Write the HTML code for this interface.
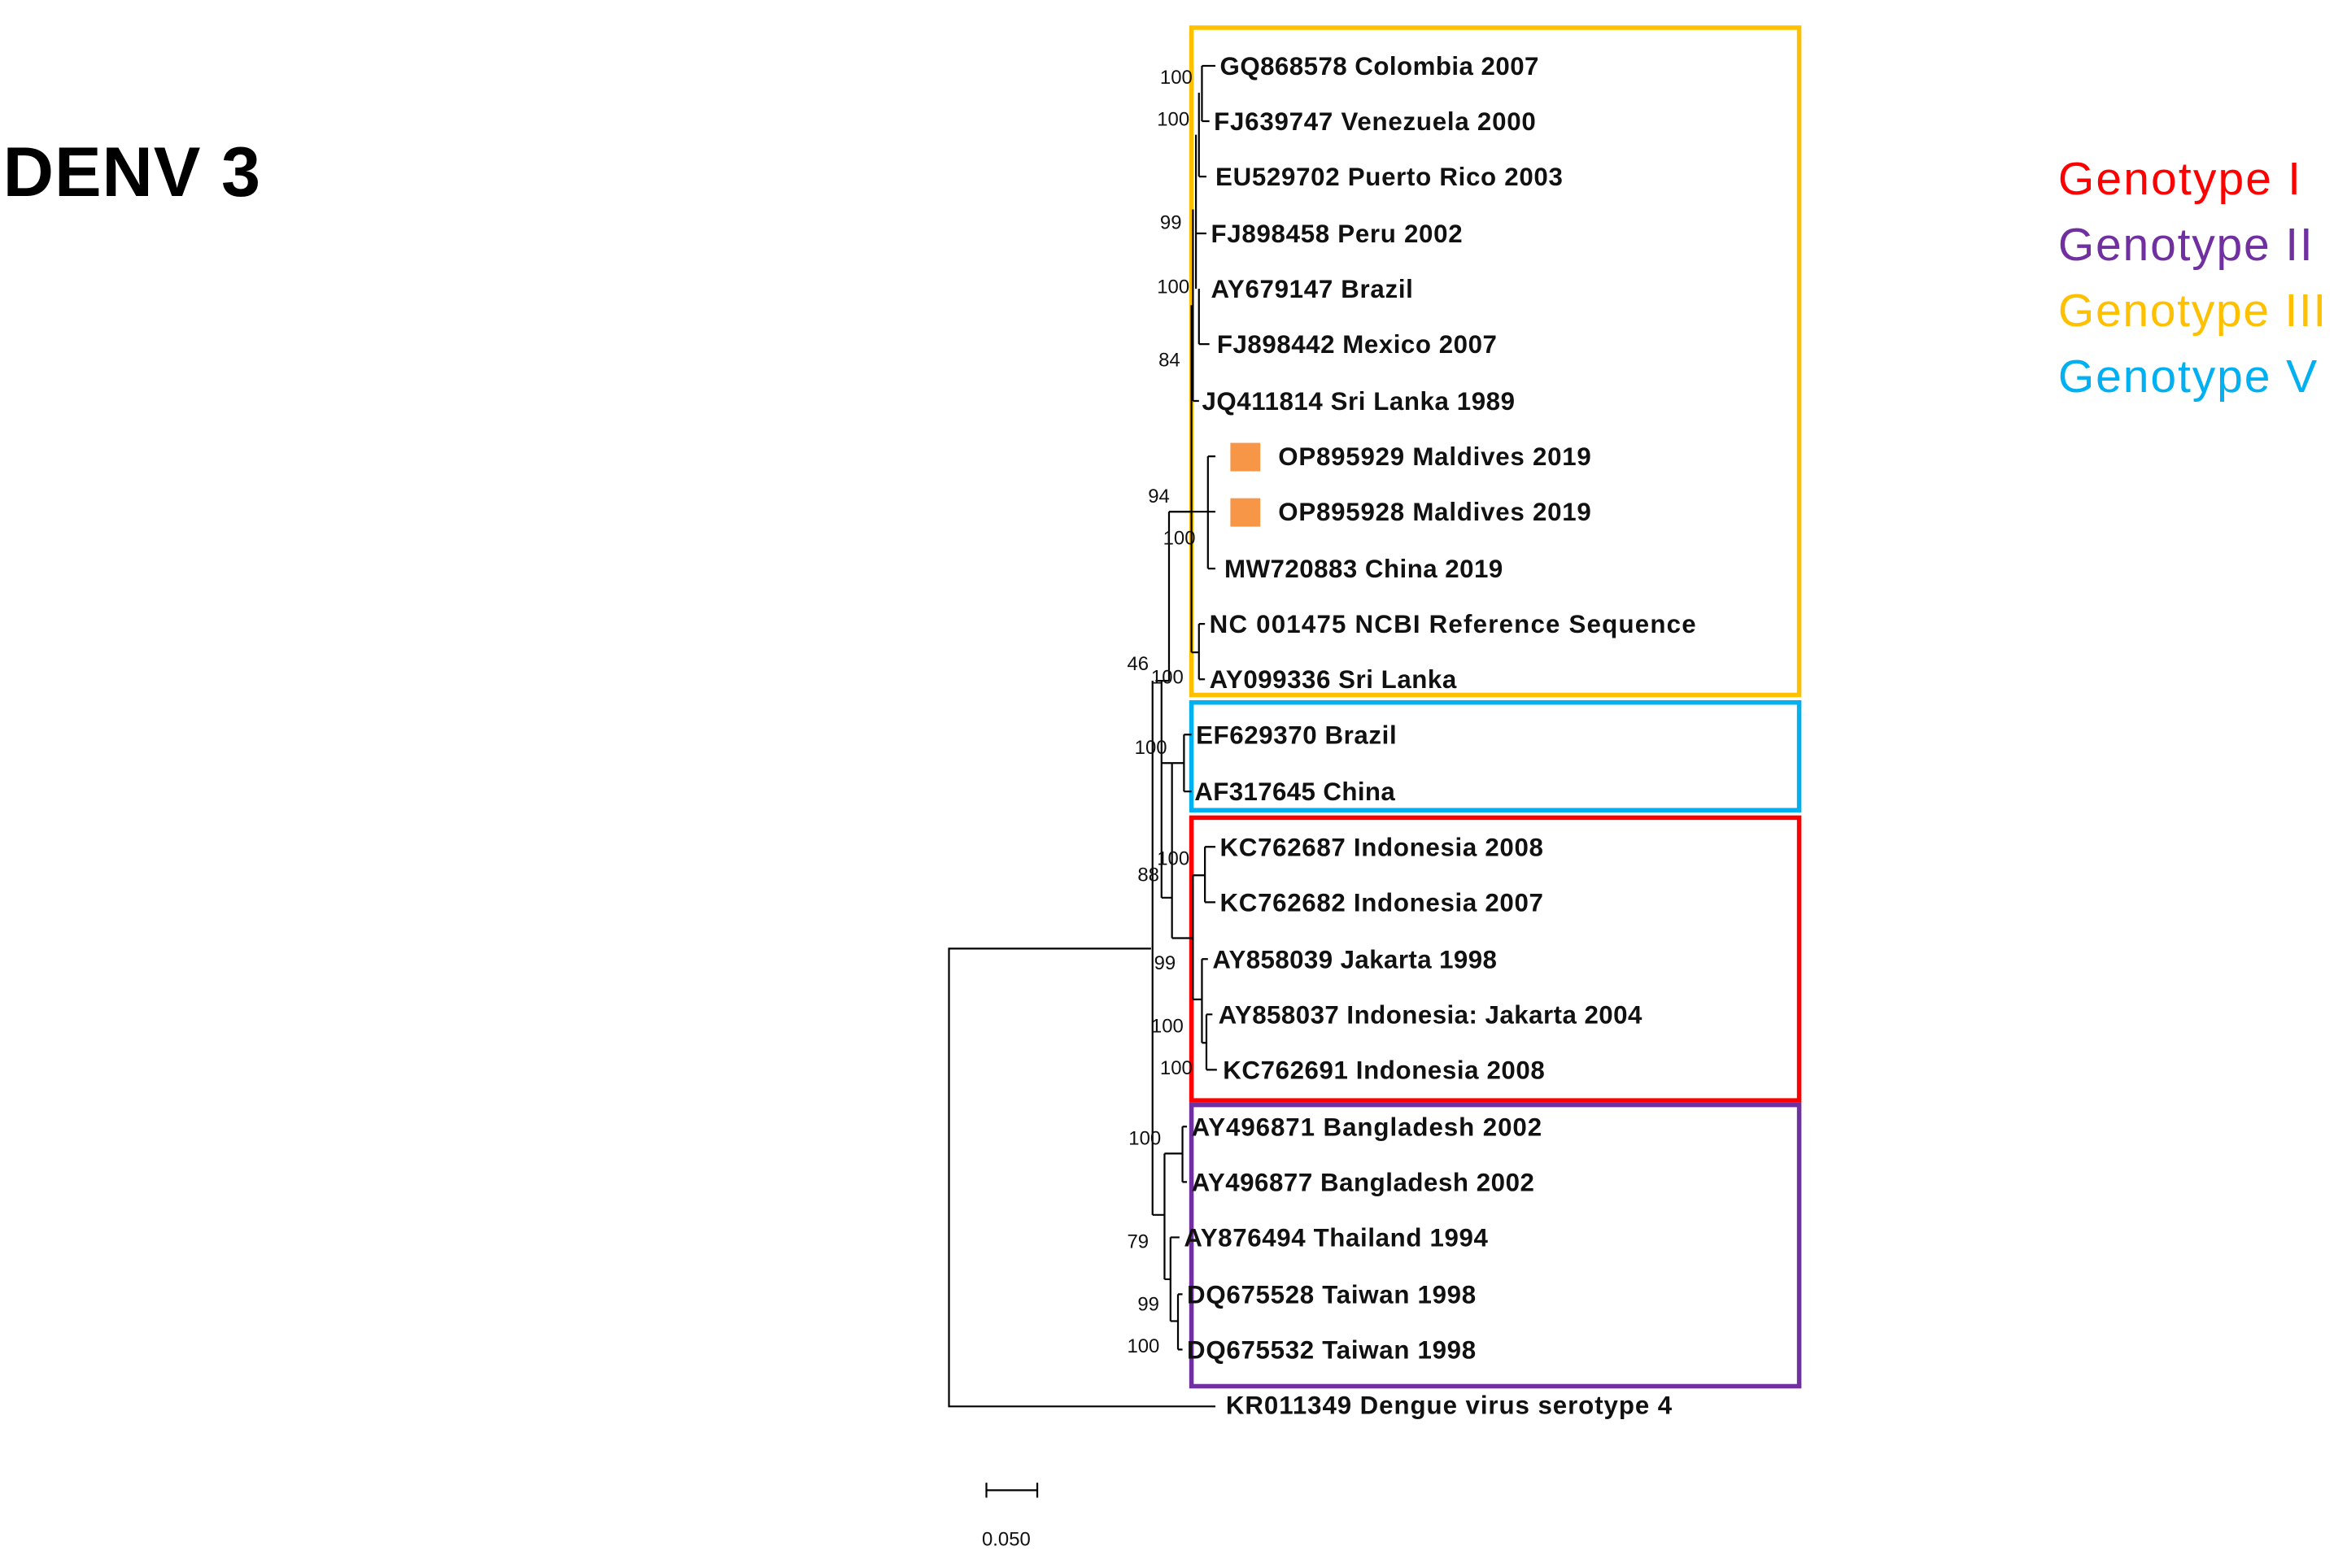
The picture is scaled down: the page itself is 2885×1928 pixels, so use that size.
<!DOCTYPE html>
<html><head><meta charset="utf-8"><style>
html,body{margin:0;padding:0;background:#fff;}
svg{display:block;}
.t{font-family:"Liberation Sans",Arial,sans-serif;font-weight:bold;font-size:17px;fill:#111;}
.b{font-family:"Liberation Sans",Arial,sans-serif;font-size:13px;fill:#111;}
.g{font-family:"Liberation Sans",Arial,sans-serif;font-size:31px;}
</style></head><body>
<svg width="2885" height="1928" viewBox="0 0 1568 1048" preserveAspectRatio="none" xmlns="http://www.w3.org/2000/svg">
<rect width="1568" height="1048" fill="#fff"/>
<text x="2" y="131" font-family="Liberation Sans,Arial,sans-serif" font-weight="bold" font-size="47" textLength="172" fill="#000">DENV 3</text>
<text class="g" x="1375" y="130" fill="#ff0000" textLength="162">Genotype I</text>
<text class="g" x="1375" y="174" fill="#7030a0" textLength="170">Genotype II</text>
<text class="g" x="1375" y="218" fill="#ffc000" textLength="179">Genotype III</text>
<text class="g" x="1375" y="262" fill="#00b0f0" textLength="173">Genotype V</text>

<g fill="none" stroke-width="3">
<rect x="796" y="18.5" width="406" height="446" stroke="#ffc000"/>
<rect x="796" y="469.5" width="406" height="72" stroke="#00b0f0"/>
<rect x="796" y="546.5" width="406" height="189" stroke="#ff0000"/>
<rect x="796" y="738.5" width="406" height="188" stroke="#7030a0"/>
</g>

<g stroke="#000" stroke-width="1.2" fill="none">
<path d="M769 634H634V940H812"/>
<path d="M770 455V812"/>
<path d="M772 455H776V600"/>
<path d="M776 455H781"/>
<path d="M781 342V455"/>
<path d="M781 342H796M796 204V436"/>
<path d="M803 44V81M803 44H812M803 81H808"/>
<path d="M801 62V118M801 118H806"/>
<path d="M799 90V193M799 156H806"/>
<path d="M801 193V230M801 230H808"/>
<path d="M797 140V268M797 268H801"/>
<path d="M781 342H807M807 305V380M807 305H812M807 342H812M807 380H812"/>
<path d="M796 436H801M801 417V454M801 417H805M801 454H805"/>
<path d="M776 510H791M791 491V529M791 491H796M791 529H796"/>
<path d="M776 600H783M783 510V627"/>
<path d="M783 627H797M797 585V668"/>
<path d="M797 585H805M805 566V603M805 566H812M805 603H812"/>
<path d="M797 668H803M803 641V697M803 641H807M803 697H806M806 678V715M806 678H810M806 715H813"/>
<path d="M770 812H778M778 771V855"/>
<path d="M778 771H790M790 753V790M790 753H793M790 790H793"/>
<path d="M778 855H782M782 827V883M782 827H788"/>
<path d="M782 883H787M787 865V902M787 865H790M787 902H790"/>
<path d="M659 996H693M659 991V1001M693 991V1001"/>
</g>

<g fill="#f79646">
<rect x="822" y="296" width="20" height="19"/>
<rect x="822" y="333" width="20" height="19"/>
</g>

<g class="t">
<text x="815" y="50" textLength="213">GQ868578 Colombia 2007</text>
<text x="811" y="87" textLength="215">FJ639747 Venezuela 2000</text>
<text x="812" y="124" textLength="232">EU529702 Puerto Rico 2003</text>
<text x="809" y="162" textLength="168">FJ898458 Peru 2002</text>
<text x="809" y="199" textLength="135">AY679147 Brazil</text>
<text x="813" y="236" textLength="187">FJ898442 Mexico 2007</text>
<text x="803" y="274" textLength="209">JQ411814 Sri Lanka 1989</text>
<text x="854" y="311" textLength="209">OP895929 Maldives 2019</text>
<text x="854" y="348" textLength="209">OP895928 Maldives 2019</text>
<text x="818" y="386" textLength="186">MW720883 China 2019</text>
<text x="808" y="423" textLength="325">NC 001475 NCBI Reference Sequence</text>
<text x="808" y="460" textLength="165">AY099336 Sri Lanka</text>
<text x="799" y="497" textLength="134">EF629370 Brazil</text>
<text x="798" y="535" textLength="134">AF317645 China</text>
<text x="815" y="572" textLength="216">KC762687 Indonesia 2008</text>
<text x="815" y="609" textLength="216">KC762682 Indonesia 2007</text>
<text x="810" y="647" textLength="190">AY858039 Jakarta 1998</text>
<text x="814" y="684" textLength="283">AY858037 Indonesia: Jakarta 2004</text>
<text x="817" y="721" textLength="215">KC762691 Indonesia 2008</text>
<text x="796" y="759" textLength="234">AY496871 Bangladesh  2002</text>
<text x="796" y="796" textLength="229">AY496877 Bangladesh 2002</text>
<text x="791" y="833" textLength="203">AY876494 Thailand 1994</text>
<text x="793" y="871" textLength="193">DQ675528 Taiwan 1998</text>
<text x="793" y="908" textLength="193">DQ675532 Taiwan 1998</text>
<text x="819" y="945" textLength="298">KR011349 Dengue virus serotype 4</text>
</g>

<g class="b">
<text x="775" y="56">100</text>
<text x="773" y="84">100</text>
<text x="775" y="153">99</text>
<text x="773" y="196">100</text>
<text x="774" y="245">84</text>
<text x="767" y="336">94</text>
<text x="777" y="364">100</text>
<text x="753" y="448">46</text>
<text x="769" y="457">100</text>
<text x="758" y="504">100</text>
<text x="773" y="578">100</text>
<text x="760" y="589">88</text>
<text x="771" y="648">99</text>
<text x="769" y="690">100</text>
<text x="775" y="718">100</text>
<text x="754" y="765">100</text>
<text x="753" y="834">79</text>
<text x="760" y="876">99</text>
<text x="753" y="904">100</text>
<text x="656" y="1033">0.050</text>
</g>
</svg>
</body></html>
